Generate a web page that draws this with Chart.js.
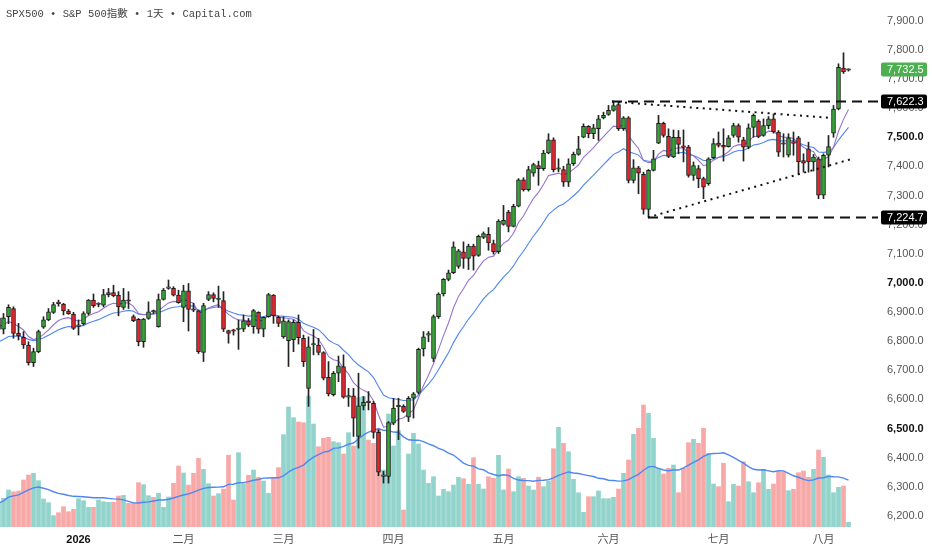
<!DOCTYPE html>
<html>
<head>
<meta charset="utf-8">
<script src="https://cdn.jsdelivr.net/npm/chart.js@4.4.1/dist/chart.umd.min.js"></script>
<style>
  html, body { margin: 0; padding: 0; background: #fff; }
  #wrap { width: 932px; height: 550px; }
</style>
</head>
<body>
<div id="wrap"><canvas id="spxChart" width="932" height="550"></canvas></div>
<script>
// daily candles, one per trading day (index 0 = first visible bar)
const opens = [6840, 6841, 6884, 6912, 6827, 6813, 6787, 6726, 6764, 6848,
  6873, 6899, 6931, 6927, 6903, 6893, 6851, 6859, 6895, 6941,
  6926, 6924, 6960, 6967, 6958, 6916, 6939, 6884, 6875, 6798,
  6878, 6902, 6850, 6943, 6981, 6981, 6958, 6916, 6973, 6908,
  6904, 6761, 6943, 6960, 6943, 6939, 6836, 6836, 6840, 6841,
  6869, 6850, 6899, 6841, 6884, 6958, 6882, 6815, 6802, 6805,
  6865, 6810, 6638, 6787, 6787, 6761, 6676, 6616, 6690, 6713,
  6608, 6612, 6473, 6578, 6591, 6587, 6487, 6336, 6336, 6519,
  6575, 6576, 6539, 6604, 6624, 6773, 6821, 6741, 6884, 6962,
  7012, 7035, 7057, 7107, 7084, 7126, 7094, 7156, 7167, 7135,
  7107, 7201, 7243, 7194, 7263, 7354, 7320, 7377, 7403, 7392,
  7446, 7491, 7390, 7389, 7346, 7409, 7441, 7500, 7537, 7512,
  7529, 7566, 7578, 7592, 7612, 7529, 7567, 7352, 7395, 7373,
  7252, 7386, 7480, 7548, 7503, 7432, 7500, 7467, 7466, 7369,
  7392, 7358, 7341, 7430, 7480, 7472, 7468, 7506, 7540, 7491,
  7466, 7534, 7555, 7506, 7540, 7563, 7518, 7478, 7438, 7481,
  7498, 7420, 7460, 7415, 7426, 7301, 7438, 7514, 7597, 7737,
  7730];
const highs = [6890, 6895, 6925, 6918, 6861, 6833, 6798, 6776, 6838, 6884,
  6912, 6933, 6941, 6930, 6909, 6899, 6873, 6901, 6943, 6962,
  6932, 6978, 6981, 6992, 6970, 6981, 6970, 6890, 6878, 6878,
  6935, 6907, 6962, 6981, 7010, 6987, 6975, 6992, 6998, 6930,
  6907, 6930, 6970, 6966, 6989, 6970, 6838, 6841, 6873, 6890,
  6878, 6909, 6901, 6884, 6964, 6960, 6886, 6884, 6873, 6873,
  6890, 6821, 6815, 6840, 6810, 6764, 6730, 6696, 6749, 6753,
  6638, 6638, 6690, 6610, 6627, 6593, 6496, 6353, 6524, 6604,
  6604, 6582, 6610, 6624, 6776, 6833, 6833, 6890, 6966, 7015,
  7044, 7141, 7115, 7141, 7133, 7133, 7164, 7175, 7190, 7147,
  7217, 7266, 7249, 7270, 7358, 7361, 7400, 7411, 7418, 7455,
  7512, 7498, 7426, 7400, 7426, 7449, 7503, 7546, 7540, 7544,
  7575, 7586, 7609, 7622.3, 7620, 7571, 7571, 7423, 7400, 7380,
  7389, 7455, 7575, 7552, 7529, 7525, 7523, 7525, 7472, 7415,
  7403, 7363, 7430, 7495, 7518, 7529, 7506, 7548, 7546, 7500,
  7546, 7580, 7560, 7563, 7571, 7580, 7523, 7512, 7512, 7518,
  7503, 7443, 7483, 7441, 7432, 7443, 7506, 7609, 7752, 7790,
  7735];
const lows = [6830, 6825, 6860, 6810, 6804, 6775, 6718, 6713, 6760, 6844,
  6870, 6895, 6920, 6890, 6892, 6840, 6821, 6855, 6890, 6916,
  6918, 6918, 6952, 6952, 6887, 6909, 6912, 6867, 6784, 6779,
  6875, 6895, 6848, 6941, 6978, 6955, 6930, 6867, 6835, 6901,
  6758, 6730, 6939, 6935, 6916, 6833, 6793, 6821, 6772, 6833,
  6850, 6827, 6827, 6815, 6882, 6861, 6850, 6810, 6713, 6764,
  6790, 6713, 6576, 6753, 6753, 6667, 6612, 6612, 6661, 6604,
  6576, 6473, 6433, 6564, 6564, 6467, 6338, 6313, 6313, 6513,
  6462, 6555, 6524, 6536, 6619, 6749, 6798, 6730, 6878, 6955,
  7007, 7032, 7050, 7050, 7046, 7044, 7091, 7152, 7112, 7099,
  7101, 7198, 7175, 7192, 7261, 7315, 7315, 7366, 7335, 7386,
  7443, 7381, 7381, 7331, 7331, 7403, 7438, 7498, 7498, 7495,
  7489, 7563, 7575, 7589, 7523, 7523, 7343, 7343, 7306, 7236,
  7224.7, 7384, 7478, 7500, 7430, 7430, 7443, 7415, 7363, 7352,
  7327, 7289, 7335, 7426, 7466, 7418, 7466, 7500, 7483, 7418,
  7460, 7500, 7498, 7503, 7529, 7514, 7434, 7432, 7432, 7438,
  7373, 7380, 7380, 7384, 7289, 7289, 7398, 7500, 7594, 7719,
  7727];
const closes = [6880, 6880, 6916, 6827, 6818, 6787, 6726, 6764, 6833, 6873,
  6901, 6926, 6929, 6904, 6894, 6844, 6853, 6895, 6941, 6922,
  6928, 6960, 6967, 6956, 6918, 6941, 6937, 6870, 6798, 6876,
  6901, 6900, 6943, 6975, 6983, 6958, 6932, 6973, 6909, 6906,
  6764, 6922, 6960, 6947, 6945, 6841, 6827, 6834, 6842, 6870,
  6855, 6905, 6841, 6882, 6960, 6887, 6861, 6870, 6867, 6865,
  6812, 6730, 6781, 6789, 6761, 6673, 6619, 6690, 6715, 6608,
  6610, 6536, 6578, 6590, 6589, 6487, 6350, 6338, 6521, 6570,
  6578, 6559, 6604, 6619, 6772, 6815, 6823, 6884, 6962, 7012,
  7035, 7124, 7110, 7084, 7126, 7092, 7160, 7169, 7137, 7107,
  7212, 7215, 7194, 7263, 7354, 7320, 7389, 7406, 7392, 7446,
  7491, 7389, 7392, 7346, 7409, 7441, 7460, 7537, 7512, 7532,
  7563, 7575, 7592, 7609, 7529, 7567, 7352, 7395, 7377, 7252,
  7386, 7426, 7548, 7506, 7434, 7500, 7475, 7465, 7369, 7403,
  7358, 7329, 7426, 7478, 7472, 7466, 7498, 7540, 7500, 7466,
  7532, 7575, 7503, 7540, 7563, 7518, 7449, 7476, 7498, 7479,
  7415, 7411, 7415, 7432, 7301, 7438, 7468, 7597, 7740, 7724,
  7732.5];
// volume, 1e8 shares
const volumes = [23.7, 28.7, 37, 35.3, 36, 47, 52, 53.7, 46.3, 28,
  24.3, 11.3, 14.3, 20.3, 15.3, 17.7, 28.3, 26.3, 19.7, 19.7,
  27, 25.3, 24.7, 24.7, 31, 31.7, 23.7, 23.7, 44.3, 42.3,
  31.3, 29.7, 33.7, 19.7, 30, 43.7, 61, 54, 42, 53.7,
  68.7, 57.7, 43.3, 31, 33.3, 38, 71.7, 27, 74.3, 43.3,
  51.7, 57, 49.7, 46, 33.7, 48.7, 59.3, 92.3, 120, 109.3,
  105, 104.3, 131, 103, 80.3, 88.7, 89.7, 85.3, 84.3, 73,
  94.3, 81, 129.3, 130.3, 87, 83.7, 97.7, 57, 113, 81,
  96.3, 17, 73, 93.7, 83, 57, 43.7, 50.3, 31, 37.7,
  35.3, 42, 49.7, 48.3, 42.7, 69.3, 42.7, 38, 50.3, 48.7,
  71.7, 37, 58, 35.3, 50.3, 48.7, 41, 37, 49.7, 40.3,
  46, 78.3, 99.7, 83.7, 75.3, 47.7, 34.3, 14.7, 30.3, 30.3,
  36, 28.3, 28.3, 29.7, 38, 53.7, 67, 92.7, 98.7, 122,
  113.7, 88.7, 58.7, 53, 58.7, 62, 34.3, 58.7, 84.3, 87.7,
  83.7, 98.7, 73.7, 43, 40.3, 63.7, 25.3, 42.7, 41, 65.3,
  45.3, 34.3, 44.3, 57.7, 37.7, 43, 55.3, 55.3, 36.3, 37.7,
  54.3, 56, 49.7, 57.7, 77, 69.7, 52, 34.3, 39.7, 41,
  4.7];

// x axis: bar index where each month starts
const monthStarts = [16, 37, 57, 79, 101, 122, 144, 165];
const monthNames = ['2026', '二月', '三月', '四月', '五月', '六月', '七月', '八月'];
// price axis labels
const priceTicks = [6200, 6300, 6400, 6500, 6600, 6700, 6800, 6900, 7000,
  7100, 7200, 7300, 7400, 7500, 7600, 7700, 7800, 7900];

// drawn levels and trend lines (bar index, price)
const levels = [7622.3, 7224.7];
const levelFrom = [122.7, 129.9];
const trendTop = [[122.7, 7622.3], [166.7, 7566]];
const trendBottom = [[129.9, 7224.7], [170.8, 7426]];

// moving average values at the first visible bar
const emaFastSeed = 6850;
const emaSlowSeed = 6798;

const titleText = 'SPX500 • S&P 500指數 • 1天 • Capital.com';

function ema(values, period, seed) {
  const k = 2 / (period + 1);
  let prev = seed;
  return values.map((v, i) => {
    if (i > 0) prev = prev + k * (v - prev);
    return prev;
  });
}

function sma(values, period) {
  return values.map((v, i) => {
    const part = values.slice(Math.max(0, i - period + 1), i + 1);
    return part.reduce((a, b) => a + b, 0) / part.length;
  });
}

const fmt = v => v.toLocaleString('en-US', { minimumFractionDigits: 1, maximumFractionDigits: 1 });
const pts = arr => arr.map((v, i) => ({ x: i, y: v }));
const isRound = c => !!(c && c.tick && c.tick.value % 500 === 0);

const up = closes.map((c, i) => c >= opens[i]);
const emaFast = ema(closes, 9, emaFastSeed);
const emaSlow = ema(closes, 20, emaSlowSeed);
const volAvg = sma(volumes, 20);

const X_MIN = 0.3, X_MAX = 175.9;

const lineBase = { type: 'line', pointRadius: 0, tension: 0, fill: false };

const overlay = {
  id: 'overlay',
  afterDraw(chart) {
    const { ctx, chartArea, scales } = chart;
    ctx.save();
    ctx.font = "10.5px 'Liberation Mono', 'Noto Sans CJK TC', monospace";
    ctx.fillStyle = '#444';
    ctx.textBaseline = 'middle';
    ctx.textAlign = 'left';
    ctx.fillText(titleText, 6, 14.5);

    const tags = [
      [closes[closes.length - 1], '#4caf50'],
      [levels[0], '#000'],
      [levels[1], '#000']
    ];
    ctx.font = "11px 'Liberation Sans', Arial, sans-serif";
    tags.forEach(([v, bg]) => {
      const y = scales.y.getPixelForValue(v);
      const x = chartArea.right + 3;
      ctx.fillStyle = bg;
      ctx.beginPath();
      if (ctx.roundRect) ctx.roundRect(x, y - 7, 46, 14, 2);
      else ctx.rect(x, y - 7, 46, 14);
      ctx.fill();
      ctx.fillStyle = '#fff';
      ctx.fillText(fmt(v), x + 6, y + 0.5);
    });
    ctx.restore();
  }
};

new Chart(document.getElementById('spxChart'), {
  type: 'bar',
  data: {
    datasets: [
      {
        type: 'bar', yAxisID: 'vol', order: 10, grouped: false,
        data: pts(volumes),
        backgroundColor: up.map(u => u ? '#92d3cc' : '#f7a9a7'),
        borderWidth: 0, barThickness: 4
      },
      {
        ...lineBase, yAxisID: 'vol', order: 9,
        data: pts(volAvg), borderColor: '#4f86f2', borderWidth: 1.4
      },
      {
        ...lineBase, yAxisID: 'y', order: 6,
        data: pts(emaSlow), borderColor: '#4f86f2', borderWidth: 1.1
      },
      {
        ...lineBase, yAxisID: 'y', order: 5,
        data: pts(emaFast), borderColor: '#9575cd', borderWidth: 1.1
      },
      {
        type: 'bar', yAxisID: 'y', order: 3, grouped: false,
        data: highs.map((h, i) => ({ x: i, y: [lows[i], h] })),
        backgroundColor: '#222', borderWidth: 0, barThickness: 1
      },
      {
        type: 'bar', yAxisID: 'y', order: 2, grouped: false,
        data: opens.map((o, i) => ({ x: i, y: [o, closes[i]] })),
        backgroundColor: up.map(u => u ? '#36a336' : '#e3262c'),
        borderColor: '#1b1b1b', borderWidth: 1, borderSkipped: false,
        barThickness: 4, minBarLength: 1.5
      },
      ...levels.map((lv, k) => ({
        ...lineBase, yAxisID: 'y', order: 1,
        data: [{ x: levelFrom[k], y: lv }, { x: X_MAX, y: lv }],
        borderColor: '#111', borderWidth: 2, borderDash: [10, 6]
      })),
      ...[trendTop, trendBottom].map(t => ({
        ...lineBase, yAxisID: 'y', order: 1,
        data: t.map(([x, y]) => ({ x, y })),
        borderColor: '#111', borderWidth: 2, borderDash: [2, 4.5]
      }))
    ]
  },
  options: {
    responsive: false,
    animation: false,
    devicePixelRatio: 1,
    layout: { padding: 0, autoPadding: false },
    plugins: { legend: { display: false }, tooltip: { enabled: false } },
    scales: {
      x: {
        type: 'linear', min: X_MIN, max: X_MAX, offset: false,
        grid: { display: false, drawTicks: false },
        border: { display: false },
        afterBuildTicks: s => { s.ticks = monthStarts.map(v => ({ value: v })); },
        afterFit: s => { s.height = 23; s.paddingLeft = 0; s.paddingRight = 0; },
        ticks: {
          autoSkip: false, maxRotation: 0, padding: 6,
          callback: v => monthNames[monthStarts.indexOf(v)],
          color: c => (c && c.index === 0) ? '#111' : '#555',
          font: c => ({
            family: "'Liberation Sans', 'Noto Sans CJK TC', sans-serif",
            size: 11, weight: (c && c.index === 0) ? 'bold' : 'normal'
          })
        }
      },
      y: {
        position: 'right', min: 6162.2, max: 7971,
        grid: { display: false, drawTicks: false },
        border: { display: false },
        afterBuildTicks: s => { s.ticks = priceTicks.map(v => ({ value: v })); },
        afterFit: s => { s.width = 54; s.paddingTop = 0; s.paddingBottom = 0; },
        ticks: {
          padding: 9, autoSkip: false,
          callback: v => fmt(v),
          color: c => isRound(c) ? '#111' : '#555',
          font: c => ({
            family: "'Liberation Sans', Arial, sans-serif",
            size: 11, weight: isRound(c) ? 'bold' : 'normal'
          })
        }
      },
      vol: { display: false, min: 0, max: 527 }
    }
  },
  plugins: [overlay]
});
</script>
</body>
</html>
